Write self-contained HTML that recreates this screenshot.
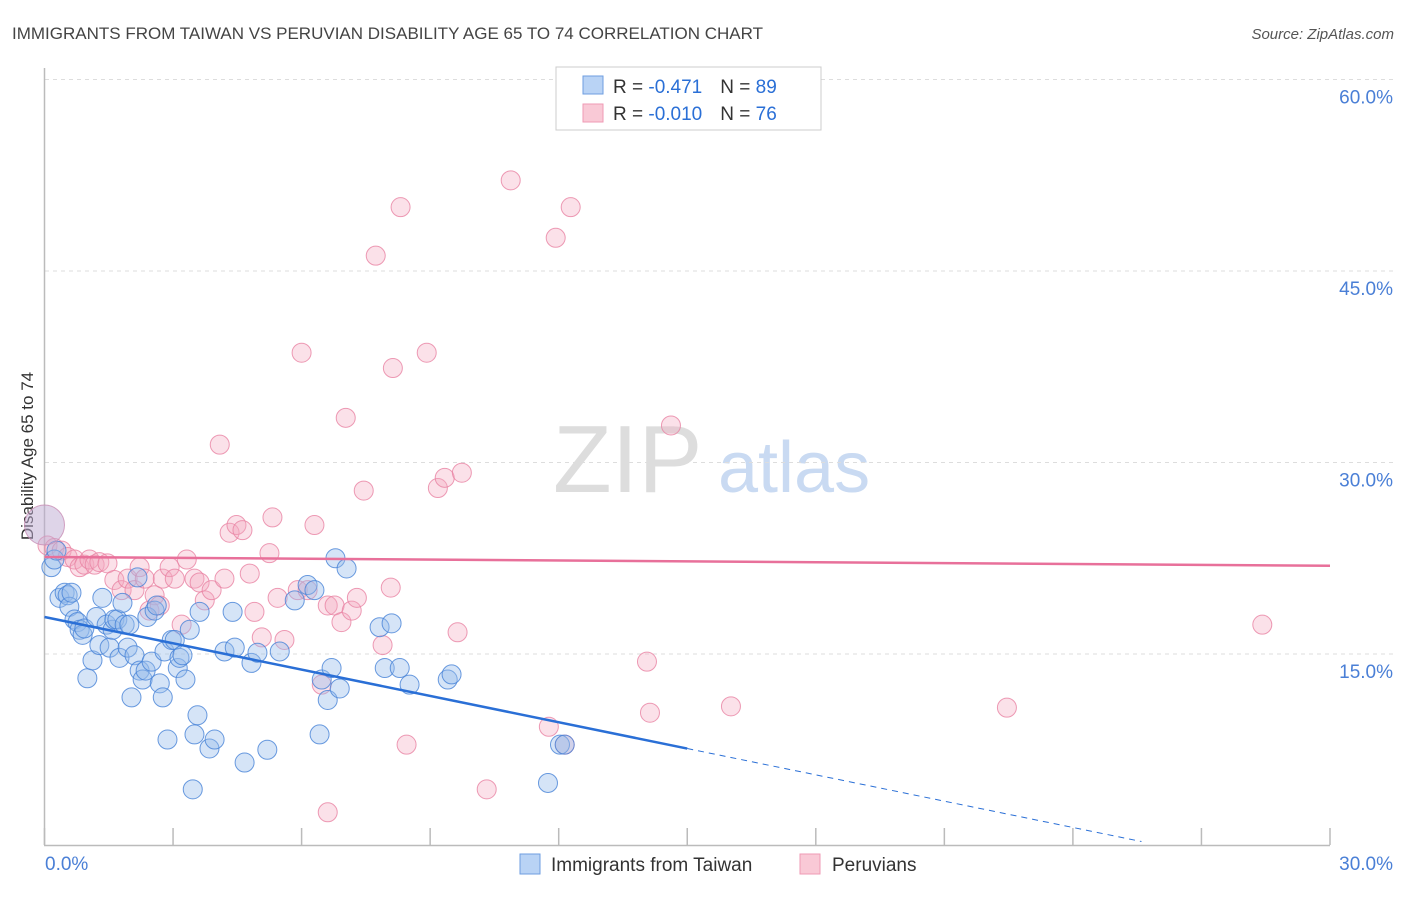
<!DOCTYPE html>
<html><head><meta charset="utf-8"><style>
body{margin:0;background:#fff;font-family:"Liberation Sans",sans-serif;}
svg text{font-family:"Liberation Sans",sans-serif;}
</style></head><body>
<svg id="chart" width="1406" height="892" viewBox="0 0 1406 892" xmlns="http://www.w3.org/2000/svg">
<text x="12" y="39" font-size="17" fill="#444">IMMIGRANTS FROM TAIWAN VS PERUVIAN DISABILITY AGE 65 TO 74 CORRELATION CHART</text>
<text x="1394" y="39" font-size="15" fill="#555" font-style="italic" text-anchor="end">Source: ZipAtlas.com</text>
<g>
<text x="553" y="492" font-size="96" fill="#ddd" font-family="Liberation Serif,serif">ZIP</text>
<text x="718" y="492" font-size="72" fill="#c9daf2">atlas</text>
</g>
<g id="grid"></g>
<line x1="44.5" y1="68" x2="44.5" y2="845" stroke="#bbb" stroke-width="1.5"/>
<line x1="44" y1="845.5" x2="1330" y2="845.5" stroke="#bbb" stroke-width="1.5"/>
<text transform="translate(33,456) rotate(-90)" font-size="17" fill="#333" text-anchor="middle">Disability Age 65 to 74</text>
<g id="pts"></g>
<g id="lines"></g>
<g>
<rect x="556" y="67" width="265" height="63" fill="#fff" stroke="#ccc"/>
<rect x="583" y="76" width="20" height="18" fill="#b9d3f5" stroke="#6e9ee0"/>
<rect x="583" y="104" width="20" height="18" fill="#f9c9d6" stroke="#ef9ab4"/>
<text x="613" y="93" font-size="19" fill="#333">R = <tspan fill="#2a6fd6">-0.471</tspan><tspan dx="18">N = </tspan><tspan fill="#2a6fd6">89</tspan></text>
<text x="613" y="120" font-size="19" fill="#333">R = <tspan fill="#2a6fd6">-0.010</tspan><tspan dx="18">N = </tspan><tspan fill="#2a6fd6">76</tspan></text>
</g>
<g>
<rect x="520" y="854" width="20" height="20" fill="#b9d3f5" stroke="#6e9ee0"/>
<text x="551" y="871" font-size="19" fill="#333">Immigrants from Taiwan</text>
<rect x="800" y="854" width="20" height="20" fill="#f9c9d6" stroke="#ef9ab4"/>
<text x="832" y="871" font-size="19" fill="#333">Peruvians</text>
</g>
</svg>
<script>
const yTicks=[15,30,45,60];
const xTickLabels=["0.0%","30.0%"];
const blueX=[0.16,0.23,0.28,0.35,0.47,0.54,0.58,0.63,0.70,0.77,0.82,0.89,0.93,1.0,1.12,1.21,1.28,1.35,1.45,1.52,1.59,1.63,1.70,1.75,1.82,1.87,1.94,1.98,2.03,2.10,2.17,2.22,2.29,2.36,2.40,2.50,2.57,2.62,2.69,2.76,2.80,2.87,2.97,3.04,3.11,3.15,3.22,3.29,3.39,3.46,3.50,3.57,3.62,3.85,3.97,4.20,4.39,4.44,4.67,4.83,4.97,5.20,5.49,5.84,6.14,6.30,6.42,6.47,6.61,6.70,6.79,6.89,7.05,7.82,7.94,8.10,8.29,8.52,9.41,9.50,11.75,12.03,12.14];
const blueY=[21.8,22.4,23.1,19.4,19.8,19.6,18.7,19.8,17.7,17.5,16.9,16.5,17.0,13.1,14.5,17.9,15.7,19.4,17.3,15.5,16.9,17.7,17.7,14.7,19.0,17.3,15.5,17.3,11.6,14.9,21.0,13.7,13.0,13.7,17.9,14.4,18.4,18.8,12.7,11.6,15.2,8.3,16.1,16.1,13.9,14.7,14.9,13.0,16.9,4.4,8.7,10.2,18.3,7.6,8.3,15.2,18.3,15.5,6.5,14.3,15.1,7.5,15.2,19.2,20.4,20.0,8.7,13.0,11.4,13.9,22.5,12.3,21.7,17.1,13.9,17.4,13.9,12.6,13.0,13.4,4.9,7.9,7.9];
const pinkX=[0.07,0.23,0.40,0.54,0.70,0.82,0.93,1.05,1.17,1.28,1.47,1.63,1.80,1.94,2.10,2.22,2.34,2.45,2.57,2.69,2.76,2.92,3.04,3.20,3.32,3.50,3.62,3.74,3.90,4.09,4.20,4.32,4.48,4.62,4.79,4.90,5.07,5.25,5.32,5.44,5.60,5.91,6.00,6.14,6.30,6.47,6.61,6.77,6.93,7.03,7.17,7.29,7.45,7.73,7.89,8.08,8.13,8.31,8.45,8.92,9.18,9.34,9.64,9.74,10.32,10.88,11.77,11.93,12.14,12.28,14.06,14.13,14.62,16.02,22.46,28.42,6.61];
const pinkY=[23.5,23.3,23.1,22.6,22.4,21.8,22.0,22.4,22.0,22.2,22.1,20.8,20.0,20.9,20.0,21.8,20.9,18.4,19.6,18.8,20.9,21.8,20.9,17.3,22.4,20.9,20.6,19.2,20.0,31.4,20.9,24.5,25.1,24.7,21.3,18.3,16.3,22.9,25.7,19.4,16.1,20.0,38.6,20.0,25.1,12.6,18.8,18.8,17.5,33.5,18.4,19.4,27.8,46.2,15.7,20.2,37.4,50.0,7.9,38.6,28.0,28.8,16.7,29.2,4.4,52.1,9.3,47.6,7.9,50.0,14.4,10.4,32.9,10.9,10.8,17.3,2.6];
const blueTrend=[17.9,-0.687];
const pinkTrend=[22.6,-0.023];
const NS="http://www.w3.org/2000/svg";
const X=v=>44.5+v/30*1285.5, Y=v=>845.5-v/15*191.5;
function mk(t,a,p){const e=document.createElementNS(NS,t);for(const k in a)e.setAttribute(k,a[k]);p.appendChild(e);return e;}
const grid=document.getElementById('grid');
yTicks.forEach(t=>{
 const l=mk('line',{x1:45,x2:1394,y1:Y(t),y2:Y(t),stroke:'#ddd','stroke-dasharray':'4,4'},grid);
 
 
 const tx=mk('text',{x:1393,y:Y(t)+24,'font-size':19,fill:'#4a7fd6','text-anchor':'end'},grid);
 tx.textContent=t.toFixed(1)+'%';
 
 
});
for(let i=0;i<=10;i++){
 const tk=mk('line',{x1:X(i*3),x2:X(i*3),y1:828,y2:845,stroke:'#bbb','stroke-width':1.5},grid);
 
 
}
xTickLabels.forEach((s,i)=>{
 const tx=mk('text',{x:i?1393:45,y:870,'font-size':19,fill:'#4a7fd6','text-anchor':i?'end':'start'},grid);
 tx.textContent=s;
 
 
});
const pts=document.getElementById('pts');
pinkX.forEach((x,i)=>{
 const c=mk('circle',{cx:X(x),cy:Y(pinkY[i]),r:9.5,fill:'rgba(244,170,192,0.35)',stroke:'rgba(232,130,162,0.8)','stroke-width':1},pts);
 
 
});
blueX.forEach((x,i)=>{
 const c=mk('circle',{cx:X(x),cy:Y(blueY[i]),r:9.5,fill:'rgba(150,188,236,0.4)',stroke:'rgba(70,130,215,0.8)','stroke-width':1},pts);
 
 
});
const bb=mk('circle',{cx:X(0),cy:Y(25.1),r:20,fill:'rgba(190,170,210,0.5)',stroke:'rgba(200,140,180,0.8)'},pts);


const lines=document.getElementById('lines');
const f=(t,x)=>t[0]+t[1]*x;
const bl=mk('line',{x1:X(0),y1:Y(f(blueTrend,0)),x2:X(15),y2:Y(f(blueTrend,15)),stroke:'#2a6fd6','stroke-width':2.5},lines);


const bd=mk('line',{x1:X(15),y1:Y(f(blueTrend,15)),x2:X(25.6),y2:Y(f(blueTrend,25.6)),stroke:'#2a6fd6','stroke-width':1,'stroke-dasharray':'6,5'},lines);


const pl=mk('line',{x1:X(0),y1:Y(f(pinkTrend,0)),x2:X(30),y2:Y(f(pinkTrend,30)),stroke:'#e8709a','stroke-width':2.5},lines);


</script>
</body></html>
